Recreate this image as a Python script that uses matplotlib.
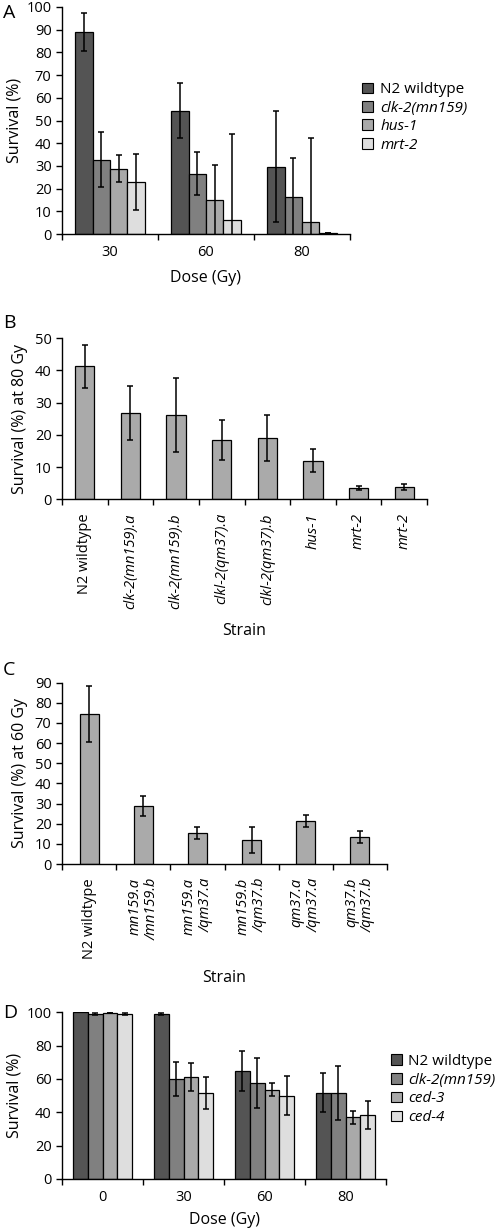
import matplotlib
matplotlib.use("Agg")
import matplotlib.pyplot as plt
import numpy as np

plt.rcParams['font.family'] = ['Open Sans', 'DejaVu Sans']

# panel A
a_doses = ['30', '60', '80']
a_strains = ['N2 wildtype', 'clk-2(mn159)', 'hus-1', 'mrt-2']
a_vals = [[88.8, 54.3, 29.7],
          [32.7, 26.5, 16.5],
          [28.8, 14.9, 5.3],
          [23.0, 6.0, 0.5]]
a_err = [[8.4, 12.0, 24.6],
         [12.2, 9.5, 17.0],
         [5.9, 15.6, 37.2],
         [12.4, 38.0, 0.0]]

# panel B
b_strains = ['N2 wildtype', 'clk-2(mn159).a', 'clk-2(mn159).b', 'clkl-2(qm37).a',
             'clkl-2(qm37).b', 'hus-1', 'mrt-2', 'mrt-2']
b_vals = [41.3, 26.8, 26.3, 18.5, 19.0, 12.0, 3.5, 3.8]
b_err = [6.6, 8.5, 11.5, 6.2, 7.2, 3.6, 0.7, 0.85]

# panel C
c_strains = ['N2 wildtype', 'mn159.a\n/mn159.b', 'mn159.a\n/qm37.a', 'mn159.b\n/qm37.b',
             'qm37.a\n/qm37.a', 'qm37.b\n/qm37.b']
c_vals = [74.5, 29.0, 15.2, 12.0, 21.5, 13.3]
c_err = [13.8, 5.0, 3.0, 6.6, 3.0, 3.0]

# panel D
d_doses = ['0', '30', '60', '80']
d_strains = ['N2 wildtype', 'clk-2(mn159)', 'ced-3', 'ced-4']
d_vals = [[100.0, 99.0, 64.7, 51.8],
          [99.0, 60.0, 57.5, 51.5],
          [99.8, 61.2, 53.5, 37.0],
          [99.0, 51.5, 50.0, 38.3]]
d_err = [[0.0, 0.6, 11.8, 11.8],
         [0.7, 10.0, 15.0, 16.0],
         [0.3, 8.2, 4.0, 4.0],
         [0.8, 9.5, 11.5, 8.2]]

grays = ['#545454', '#808080', '#a9a9a9', '#dedede']
single = '#aaaaaa'

TICK = 10.5
LAB = 11.5
LEG = 11

W, H = 498, 1231
fig = plt.figure(figsize=(W / 100, H / 100), dpi=100)


def make_ax(l, r, t, b):
    return fig.add_axes([l / W, 1 - b / H, (r - l) / W, (b - t) / H])


def style(ax, n, ymax, step):
    ax.set_xlim(-0.5, n - 0.5)
    ax.set_ylim(0, ymax)
    ax.set_yticks(np.arange(0, ymax + 0.1, step))
    ax.set_xticks(np.arange(n + 1) - 0.5)
    ax.set_xticklabels([])
    ax.set_xticks(np.arange(n), minor=True)
    ax.tick_params(axis='x', which='minor', length=0)
    ax.tick_params(axis='both', which='major', length=4, width=1, direction='out', labelsize=TICK)
    ax.spines['top'].set_visible(False)
    ax.spines['right'].set_visible(False)
    for s in ['left', 'bottom']:
        ax.spines[s].set_linewidth(1)


ekw = dict(ecolor='black', elinewidth=1.1, capsize=2.5, capthick=1.1)


def grouped(ax, vals, errs, colors, width):
    n = len(vals[0])
    x = np.arange(n)
    k = len(vals)
    for i in range(k):
        pos = x + (i - (k - 1) / 2) * width
        ax.bar(pos, vals[i], width, color=colors[i], edgecolor='black', linewidth=0.9,
               yerr=errs[i], error_kw=ekw, zorder=2)


def italic_legend(leg, labels):
    for t, lab in zip(leg.get_texts(), labels):
        if lab != 'N2 wildtype':
            t.set_fontstyle('italic')


def italic_ticks(ax, labels):
    for t, lab in zip(ax.get_xticklabels(minor=True), labels):
        if lab != 'N2 wildtype':
            t.set_fontstyle('italic')


# ---- A
ax = make_ax(62, 350, 7, 234)
grouped(ax, a_vals, a_err, grays, 0.182)
style(ax, 3, 100, 10)
ax.set_xticklabels(a_doses, minor=True, fontsize=TICK)
ax.tick_params(axis='x', which='minor', pad=8)
ax.set_xlabel('Dose (Gy)', fontsize=LAB, labelpad=7)
ax.set_ylabel('Survival (%)', fontsize=LAB, labelpad=3)
handles = [plt.Rectangle((0, 0), 1, 1, fc=c, ec='black', lw=0.8) for c in grays]
leg = fig.legend(handles, a_strains, loc='center left', bbox_to_anchor=(362 / W, 1 - 117.5 / H),
                 frameon=False, fontsize=LEG, handlelength=0.7, handleheight=0.7,
                 handletextpad=0.5, labelspacing=0.22, borderpad=0, borderaxespad=0)
italic_legend(leg, a_strains)
fig.text(3 / W, 1 - 13 / H, 'A', fontsize=14, va='center', ha='left')

# ---- B
ax = make_ax(62, 427, 338.3, 499.3)
ax.bar(np.arange(len(b_vals)), b_vals, 0.42, color=single, edgecolor='black', linewidth=0.9,
       yerr=b_err, error_kw=ekw, zorder=2)
style(ax, len(b_vals), 50, 10)
ax.set_xticklabels(b_strains, minor=True, rotation=90, fontsize=TICK)
ax.tick_params(axis='x', which='minor', pad=10)
italic_ticks(ax, b_strains)
ax.set_ylabel('Survival (%) at 80 Gy', fontsize=LAB, labelpad=5)
ax.set_xlabel('Strain', fontsize=LAB, labelpad=10)
fig.text(3 / W, 1 - 323 / H, 'B', fontsize=14, va='center', ha='left')

# ---- C
ax = make_ax(62, 387, 682.7, 864)
ax.bar(np.arange(len(c_vals)), c_vals, 0.35, color=single, edgecolor='black', linewidth=0.9,
       yerr=c_err, error_kw=ekw, zorder=2)
style(ax, len(c_vals), 90, 10)
ax.set_xticklabels(c_strains, minor=True, rotation=90, fontsize=TICK, multialignment='right')
ax.tick_params(axis='x', which='minor', pad=10)
italic_ticks(ax, c_strains)
ax.set_ylabel('Survival (%) at 60 Gy', fontsize=LAB, labelpad=5)
ax.set_xlabel('Strain', fontsize=LAB, labelpad=8)
fig.text(3 / W, 1 - 670 / H, 'C', fontsize=14, va='center', ha='left')

# ---- D
ax = make_ax(62, 386, 1012.3, 1179)
grouped(ax, d_vals, d_err, grays, 0.185)
style(ax, 4, 100, 20)
ax.set_xticklabels(d_doses, minor=True, fontsize=TICK)
ax.tick_params(axis='x', which='minor', pad=8)
ax.set_xlabel('Dose (Gy)', fontsize=LAB, labelpad=5)
ax.set_ylabel('Survival (%)', fontsize=LAB, labelpad=3)
leg = fig.legend(handles, d_strains, loc='center left', bbox_to_anchor=(391 / W, 1 - 1089.5 / H),
                 frameon=False, fontsize=LEG, handlelength=0.7, handleheight=0.7,
                 handletextpad=0.4, labelspacing=0.25, borderpad=0, borderaxespad=0)
italic_legend(leg, d_strains)
fig.text(3 / W, 1 - 1013 / H, 'D', fontsize=14, va='center', ha='left')

fig.savefig('out.png', dpi=100)
